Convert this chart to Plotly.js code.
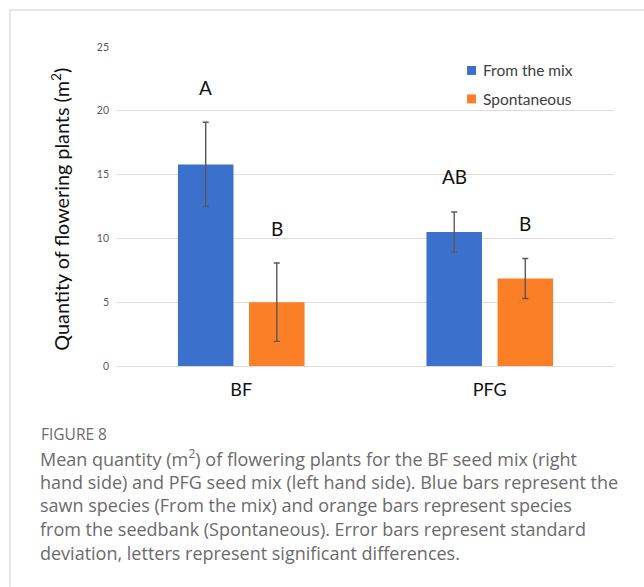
<!DOCTYPE html>
<html>
<head>
<meta charset="utf-8">
<script src="https://cdn.plot.ly/plotly-3.0.1.min.js"></script>
<style>html,body{margin:0;padding:0;background:#fff;}#chart{width:644px;height:587px;}</style>
</head>
<body>
<div id="chart"></div>
<script>
// ---- data ----
var categories = ['BF', 'PFG'];
var seriesNames = ['From the mix', 'Spontaneous'];
var fromMix = [15.8, 10.5];
var fromMixSD = [3.3, 1.57];
var spontaneous = [5.0, 6.86];
var spontaneousSD = [3.07, 1.57];
var letters = [['A', 'AB'], ['B', 'B']];   // [series][category]
var yTicks = [0, 5, 10, 15, 20, 25];
var captionTitle = 'FIGURE 8';
var captionLines = [
  'Mean quantity (m<sup>2</sup>) of flowering plants for the BF seed mix (right',
  'hand side) and PFG seed mix (left hand side). Blue bars represent the',
  'sawn species (From the mix) and orange bars represent species',
  'from the seedbank (Spontaneous). Error bars represent standard',
  'deviation, letters represent significant differences.'
];

// ---- layout helpers (pixel geometry) ----
var W = 644, H = 587;
var L = 116.6, R = 30.2, T = 46.5, B = 221;
var plotW = W - L - R, plotH = H - T - B;
function px(X) { return (X - L) / plotW; }
function py(Y) { return (H - B - Y) / plotH; }

var bargap = 0.428, bargroupgap = 0.219;
var colors = ['#3c70cd', '#fb7f26'];
var vals = [fromMix, spontaneous];
var sds = [fromMixSD, spontaneousSD];

var traces = vals.map(function (v, s) {
  return {
    type: 'bar', name: seriesNames[s], x: categories, y: v,
    marker: { color: colors[s] },
    error_y: { type: 'data', array: sds[s], visible: true, color: '#595959', thickness: 1.4, width: 3 },
    showlegend: false,
    hoverinfo: 'skip'
  };
});

var annotations = [];
var shapes = [];
var slotHalf = (1 - bargap) / 4;
for (var s = 0; s < 2; s++) {
  for (var c = 0; c < categories.length; c++) {
    annotations.push({
      xref: 'x', yref: 'y', x: c + (s === 0 ? -slotHalf : slotHalf), y: vals[s][c] + sds[s][c],
      text: letters[s][c], showarrow: false, yshift: 35, xanchor: 'center', yanchor: 'middle',
      font: { family: 'Lato, sans-serif', size: 19, color: '#111' }
    });
  }
}
// legend (small squares + labels)
seriesNames.forEach(function (name, s) {
  var cy = 70 + s * 28.5;
  shapes.push({ type: 'rect', xref: 'paper', yref: 'paper', x0: px(466.8), x1: px(475.8), y0: py(cy - 4.5), y1: py(cy + 4.5),
    fillcolor: colors[s], line: { width: 0 } });
  annotations.push({ xref: 'paper', yref: 'paper', x: px(481), y: py(cy), text: name, showarrow: false,
    xanchor: 'left', yanchor: 'middle', font: { family: 'Lato, sans-serif', size: 15.5, color: '#404040' } });
});
// y-axis title
annotations.push({
  xref: 'paper', yref: 'paper', x: px(60), y: py(209), textangle: -90,
  text: 'Quantity of flowering plants (m<sup>2</sup>)', showarrow: false,
  xanchor: 'center', yanchor: 'middle',
  font: { family: 'Lato, sans-serif', size: 19.8, color: '#111' }
});
// caption
annotations.push({
  xref: 'paper', yref: 'paper', x: px(39), y: py(434), text: captionTitle, showarrow: false,
  xanchor: 'left', yanchor: 'middle', font: { family: 'Open Sans, sans-serif', size: 15.5, color: '#6b6b6b' }
});
captionLines.forEach(function (line, i) {
  annotations.push({
    xref: 'paper', yref: 'paper', x: px(38), y: py(458 + i * 23.7), text: line, showarrow: false,
    xanchor: 'left', yanchor: 'middle', font: { family: 'Open Sans, sans-serif', size: 18, color: '#6b6b6b' }
  });
});
// frame lines
shapes.push({ type: 'line', xref: 'paper', yref: 'paper', x0: px(9.5), x1: px(644), y0: py(9.5), y1: py(9.5), line: { color: '#cfcfcf', width: 1 } });
shapes.push({ type: 'line', xref: 'paper', yref: 'paper', x0: px(9.5), x1: px(9.5), y0: py(9.5), y1: py(587), line: { color: '#cfcfcf', width: 1 } });

var layout = {
  width: W, height: H,
  margin: { l: L, r: R, t: T, b: B, pad: 0 },
  paper_bgcolor: '#fff', plot_bgcolor: '#fff',
  barmode: 'group', bargap: bargap, bargroupgap: bargroupgap,
  showlegend: false,
  xaxis: {
    type: 'category', showgrid: false, showline: false, zeroline: false, ticks: '',
    tickfont: { family: 'Lato, sans-serif', size: 18, color: '#111' }, ticklabelstandoff: 11
  },
  yaxis: {
    range: [0, 25], tickvals: yTicks, ticktext: yTicks.map(String), showgrid: true, gridcolor: '#dcdcdc', gridwidth: 1,
    zeroline: true, zerolinecolor: '#dcdcdc', zerolinewidth: 1, showline: false, ticks: '',
    tickfont: { family: 'Lato, sans-serif', size: 10.5, color: '#595959' }, ticklabelstandoff: 7
  },
  annotations: annotations,
  shapes: shapes
};

Plotly.newPlot('chart', traces, layout, { displayModeBar: false, staticPlot: true });
</script>
</body>
</html>
